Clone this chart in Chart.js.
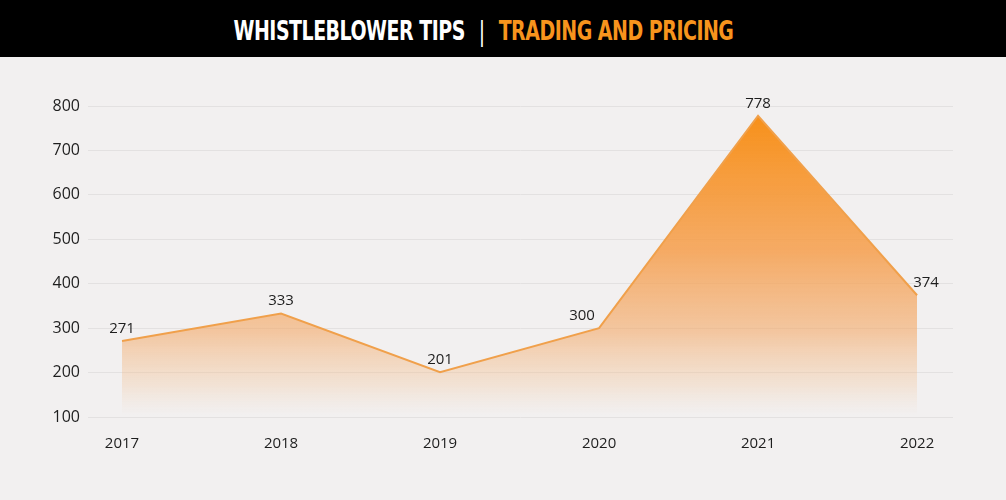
<!DOCTYPE html>
<html>
<head>
<meta charset="utf-8">
<script src="https://cdn.jsdelivr.net/npm/chart.js@4"></script>
<style>
    html, body { margin: 0; padding: 0; background: #f2f0f0; }
    #header {
        height: 57px; background: #000; color: #fff;
        text-align: center; padding-right: 40px; overflow: hidden;
    }
    #header .title {
        display: inline-block;
        font-family: "DejaVu Sans Condensed", "DejaVu Sans", sans-serif;
        font-weight: bold; font-size: 27px; line-height: 62px;
        letter-spacing: -0.6px; transform: scaleX(0.78); transform-origin: center;
        white-space: nowrap;
    }
    #header .sep { font-weight: normal; margin: 0 10px; }
    #header .sub { color: #f7941d; }
    #wrap { width: 1006px; height: 443px; }
</style>
</head>
<body>
<div id="header"><span class="title">WHISTLEBLOWER TIPS <span class="sep">|</span> <span class="sub">TRADING AND PRICING</span></span></div>
<div id="wrap"><canvas id="tipsChart"></canvas></div>
<script>
// --- Dados ---
const years = [2017, 2018, 2019, 2020, 2021, 2022];
const tips = [271, 333, 201, 300, 778, 374];
const yTicks = [100, 200, 300, 400, 500, 600, 700, 800];

const ORANGE = '#f0a04b';

// rótulos de valor acima de cada ponto
const valueLabels = {
    id: 'valueLabels',
    afterDatasetsDraw(chart) {
        const ctx = chart.ctx;
        const meta = chart.getDatasetMeta(0);
        const shift = [0, 0, 0, -17, 0, 9]; // pequenos ajustes horizontais
        ctx.save();
        ctx.font = '15px "Open Sans", sans-serif';
        ctx.fillStyle = '#1e1e1e';
        ctx.textAlign = 'center';
        ctx.textBaseline = 'bottom';
        meta.data.forEach((pt, i) => {
            ctx.fillText(String(tips[i]), pt.x + shift[i], pt.y - 5);
        });
        ctx.restore();
    }
};

function fillGradient(context) {
    const chart = context.chart;
    if (!chart.chartArea) return 'rgba(247,147,30,0.5)';
    const y = chart.scales.y;
    const g = chart.ctx.createLinearGradient(0, y.getPixelForValue(770), 0, y.getPixelForValue(105));
    g.addColorStop(0, 'rgba(247,145,28,1)');
    g.addColorStop(0.45, 'rgba(245,160,80,0.87)');
    g.addColorStop(0.72, 'rgba(243,172,110,0.62)');
    g.addColorStop(0.9, 'rgba(243,195,150,0.3)');
    g.addColorStop(1, 'rgba(243,210,180,0)');
    return g;
}

new Chart(document.getElementById('tipsChart'), {
    type: 'line',
    data: {
        datasets: [{
            data: years.map((yr, i) => ({ x: yr, y: tips[i] })),
            borderColor: ORANGE,
            borderWidth: 2,
            backgroundColor: fillGradient,
            fill: { value: 100 },
            pointRadius: 0,
            tension: 0
        }]
    },
    options: {
        responsive: true,
        maintainAspectRatio: false,
        animation: false,
        layout: { padding: { top: 49, right: 53, left: 0, bottom: 0 } },
        plugins: { legend: { display: false }, tooltip: { enabled: false } },
        scales: {
            x: {
                type: 'linear',
                min: 2016.786,
                max: 2022.226,
                afterBuildTicks: (scale) => { scale.ticks = years.map(v => ({ value: v })); },
                afterFit: (scale) => { scale.height = 83; },
                grid: { display: false },
                border: { display: false },
                ticks: {
                    padding: 10,
                    color: '#1e1e1e',
                    font: { family: '"Open Sans", sans-serif', size: 15 },
                    callback: (v) => String(v)
                }
            },
            y: {
                min: 100,
                max: 800,
                afterBuildTicks: (scale) => { scale.ticks = yTicks.map(v => ({ value: v })); },
                afterFit: (scale) => { scale.width = 88; },
                grid: { color: '#e3e1e1', lineWidth: 1, drawTicks: false },
                border: { display: false },
                ticks: {
                    padding: 8,
                    color: '#1e1e1e',
                    font: { family: '"Open Sans", sans-serif', size: 16 }
                }
            }
        }
    },
    plugins: [valueLabels]
});
</script>
</body>
</html>
